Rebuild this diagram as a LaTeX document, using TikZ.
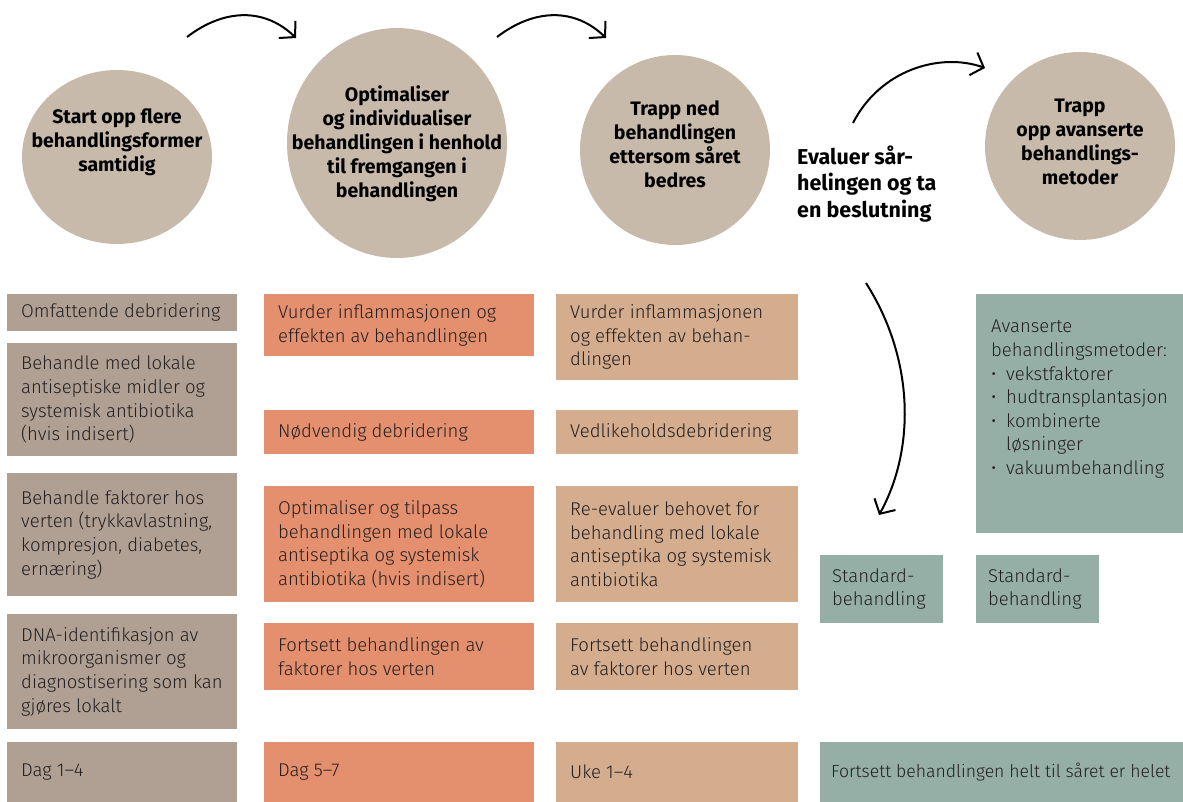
\documentclass[tikz,border=0pt]{standalone}
\usepackage{fontspec}
\setmainfont{Fira Sans}[UprightFont=* Light, BoldFont=* Bold]
\usetikzlibrary{arrows.meta,shapes.geometric}
\definecolor{circ}{HTML}{C8BAAB}
\definecolor{cone}{HTML}{B0A093}
\definecolor{ctwo}{HTML}{E48F6D}
\definecolor{cthree}{HTML}{D4AC8E}
\definecolor{cgreen}{HTML}{95AFA7}
\definecolor{ink}{HTML}{231F20}
\tikzset{
  circlenode/.style={ellipse, fill=circ, inner sep=0pt},
  headtxt/.style={align=center, inner sep=0pt, text=black, font=\fontsize{19.5}{24}\selectfont\bfseries},
  boxnode/.style={rectangle, inner sep=0pt, anchor=north west},
  bodytxt/.style={align=left, inner sep=0pt, anchor=west, text=ink, font=\fontsize{18.5}{23.6}\selectfont},
  arr/.style={line width=2pt, -{Straight Barb[length=11pt, width=24pt, line width=2pt]}},
}
\newcommand\myboxi[8]{%
  \node[boxnode, fill=#2, minimum width={(#5-#3)*1pt}, minimum height={(#6-#4)*1pt}] (#1) at (#3,#4) {};
  \node[bodytxt] (#1t) at ([xshift=#8pt]#1.west) {#7};
}
\newcommand\mybox[7]{\myboxi{#1}{#2}{#3}{#4}{#5}{#6}{#7}{14}}
\begin{document}
\begin{tikzpicture}[x=1pt,y=-1pt]
\useasboundingbox (0,0) rectangle (1183,802);
% circles
\node[circlenode, minimum width=190pt, minimum height=174pt] (c1) at (117,157) {};
\node[circlenode, minimum width=220pt, minimum height=230pt] (c2) at (397,143) {};
\node[circlenode, minimum width=190pt, minimum height=190pt] (c3) at (675,150) {};
\node[circlenode, minimum width=190pt, minimum height=188pt] (c4) at (1080,146) {};
\node[headtxt] (h1) at (117,142) {Start opp flere\\behandlingsformer\\samtidig};
\node[headtxt] (h2) at (397,144) {Optimaliser\\og individualiser\\behandlingen i henhold\\til fremgangen i\\behandlingen};
\node[headtxt] (h3) at (675,144) {Trapp ned\\behandlingen\\ettersom såret\\bedres};
\node[headtxt] (h4) at (1080,142) {Trapp\\opp avanserte\\behandlings-\\metoder};
\node[headtxt, align=left, anchor=west, font=\fontsize{21.5}{26.8}\selectfont\bfseries] (ev) at (797,184) {Evaluer sår-\\helingen og ta\\en beslutning};
% arrows
\coordinate (a1s) at (187,37); \coordinate (a1e) at (296,38);
\coordinate (a2s) at (497,37); \coordinate (a2e) at (606,38);
\coordinate (a3s) at (853,123); \coordinate (a3e) at (985,68);
\coordinate (a4s) at (866,283); \coordinate (a4e) at (879,515);
\draw[arr] (a1s) .. controls (225,8) and (265,8) .. (a1e);
\draw[arr] (a2s) .. controls (535,8) and (575,8) .. (a2e);
\draw[arr] (a3s) .. controls (880,70) and (940,52) .. (a3e);
\draw[arr] (a4s) .. controls (915,360) and (915,450) .. (a4e);
% column 1
\mybox{a1}{cone}{7}{294}{237}{331}{Omfattende debridering}
\mybox{a2}{cone}{7}{343}{237}{456}{Behandle med lokale\\antiseptiske midler og\\systemisk antibiotika\\(hvis indisert)}
\mybox{a3}{cone}{7}{473}{237}{596}{Behandle faktorer hos\\verten (trykkavlastning,\\kompresjon, diabetes,\\ernæring)}
\mybox{a4}{cone}{7}{614}{237}{729}{DNA-identifikasjon av\\mikroorganismer og\\diagnostisering som kan\\gjøres lokalt}
\mybox{a5}{cone}{7}{742}{237}{802}{Dag 1–4}
% column 2
\mybox{b1}{ctwo}{264}{294}{534}{356}{Vurder inflammasjonen og\\effekten av behandlingen}
\mybox{b2}{ctwo}{264}{410}{534}{454}{Nødvendig debridering}
\mybox{b3}{ctwo}{264}{486}{534}{602}{Optimaliser og tilpass\\behandlingen med lokale\\antiseptika og systemisk\\antibiotika (hvis indisert)}
\mybox{b4}{ctwo}{264}{623}{534}{690}{Fortsett behandlingen av\\faktorer hos verten}
\mybox{b5}{ctwo}{264}{742}{534}{802}{Dag 5–7}
% column 3
\mybox{c1b}{cthree}{556}{294}{798}{380}{Vurder inflammasjonen\\og effekten av behan-\\dlingen}
\mybox{c2b}{cthree}{556}{410}{798}{454}{Vedlikeholdsdebridering}
\mybox{c3b}{cthree}{556}{486}{798}{602}{Re-evaluer behovet for\\behandling med lokale\\antiseptika og systemisk\\antibiotika}
\mybox{c4b}{cthree}{556}{623}{798}{690}{Fortsett behandlingen\\av faktorer hos verten}
\mybox{c5b}{cthree}{556}{742}{798}{802}{Uke 1–4}
% green
\myboxi{d1}{cgreen}{820}{555}{943}{623}{Standard-\\behandling}{12}
\myboxi{d2}{cgreen}{976}{555}{1099}{623}{Standard-\\behandling}{12}
\myboxi{d4}{cgreen}{820}{742}{1183}{802}{\fontsize{17.6}{23.6}\selectfont Fortsett behandlingen helt til såret er helet}{11}
\node[boxnode, fill=cgreen, minimum width=207pt, minimum height=239pt] (d3) at (976,294) {};
\node[bodytxt, anchor=north west] (d3t) at (991,320) {Avanserte\\behandlingsmetoder:\\\makebox[15pt][l]{\textbullet}vekstfaktorer\\\makebox[15pt][l]{\textbullet}hudtransplantasjon\\\makebox[15pt][l]{\textbullet}kombinerte\\\hspace*{15pt}løsninger\\\makebox[15pt][l]{\textbullet}vakuumbehandling};
\end{tikzpicture}
\end{document}
